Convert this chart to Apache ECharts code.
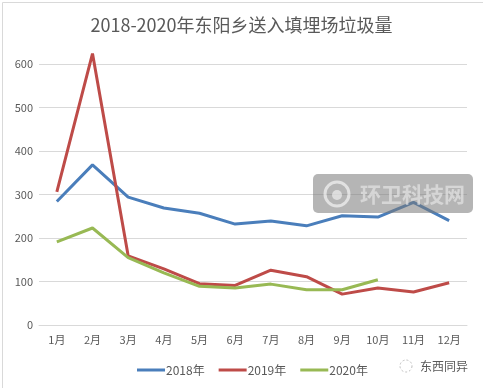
<!DOCTYPE html>
<html><head><meta charset="utf-8">
<script src="https://cdn.jsdelivr.net/npm/echarts@6/dist/echarts.min.js"></script>
<style>html,body{margin:0;padding:0;background:#fff}#c{width:483px;height:388px}</style>
</head><body><div id="c"></div>
<script>
var months = ['1月','2月','3月','4月','5月','6月','7月','8月','9月','10月','11月','12月'];
var s2018 = [284, 368, 294, 269, 257, 232, 239, 228, 251, 248, 282, 240];
var s2019 = [306, 624, 159, 129, 95, 91, 126, 111, 71, 85, 76, 97];
var s2020 = [191, 223, 155, 120, 89, 85, 94, 81, 81, 104];
var yTicks = [0, 100, 200, 300, 400, 500, 600];
var chart = echarts.init(document.getElementById('c'));
var font = '"Noto Sans CJK SC", "Noto Sans", sans-serif';
chart.setOption({
  animation: false,
  title: {text: '2018-2020年东阳乡送入填埋场垃圾量', left: 'center', top: 11,
    textStyle: {fontFamily: font, fontSize: 18, fontWeight: 'normal', color: '#595959'}},
  grid: {left: 39, right: 16, top: 64, bottom: 63},
  legend: {left: 132, top: 359, itemWidth: 28, itemHeight: 3, itemGap: 14, icon: 'rect',
    textStyle: {fontFamily: font, fontSize: 12, color: '#595959', padding: [0,0,0,-4]},
    data: ['2018年','2019年','2020年']},
  xAxis: {type: 'category', data: months, boundaryGap: true,
    axisLine: {show: true, lineStyle: {color: '#D9D9D9'}}, axisTick: {show: false},
    axisLabel: {color: '#595959', fontFamily: font, fontSize: 11, margin: 9}},
  yAxis: {type: 'value', min: 0, max: 600, interval: 100,
    axisLine: {show: false}, axisTick: {show: false},
    splitLine: {lineStyle: {color: '#D9D9D9'}},
    axisLabel: {color: '#595959', fontFamily: font, fontSize: 11, margin: 6,
      formatter: function(v){ return yTicks.indexOf(v) >= 0 ? String(v) : ''; }}},
  series: [
    {name: '2018年', type: 'line', data: s2018, symbol: 'none', clip: false, color: '#4A7EBB', lineStyle: {width: 3}},
    {name: '2019年', type: 'line', data: s2019, symbol: 'none', clip: false, color: '#BE4B48', lineStyle: {width: 3}},
    {name: '2020年', type: 'line', data: s2020, symbol: 'none', clip: false, color: '#98B954', lineStyle: {width: 3}}
  ],
  graphic: [
    {type: 'rect', left: 0, top: 0, shape: {x: 0.5, y: 0.5, width: 481, height: 386}, style: {fill: null, stroke: '#D9D9D9', lineWidth: 1}, z: 100},
    {type: 'rect', shape: {x: 313, y: 174, width: 160, height: 39, r: 5}, style: {fill: 'rgba(120,120,120,0.55)'}, z: 100},
    {type: 'circle', shape: {cx: 337, cy: 194, r: 12}, style: {fill: null, stroke: 'rgba(255,255,255,0.6)', lineWidth: 3}, z: 101},
    {type: 'circle', shape: {cx: 337, cy: 195, r: 5}, style: {fill: 'rgba(255,255,255,0.55)'}, z: 101},
    {type: 'text', x: 360, y: 194, style: {text: '环卫科技网', fontFamily: font, fontSize: 21, fontWeight: 'bold', fill: 'rgba(225,225,225,0.75)', textVerticalAlign: 'middle'}, z: 101},
    {type: 'circle', shape: {cx: 406, cy: 366, r: 6}, style: {fill: null, stroke: '#bbbbbb', lineWidth: 1, lineDash: [2,2]}, z: 100},
    {type: 'text', x: 420, y: 366, style: {text: '东西同异', fontFamily: font, fontSize: 12, fill: '#595959', textVerticalAlign: 'middle'}, z: 100}
  ]
});
</script></body></html>
